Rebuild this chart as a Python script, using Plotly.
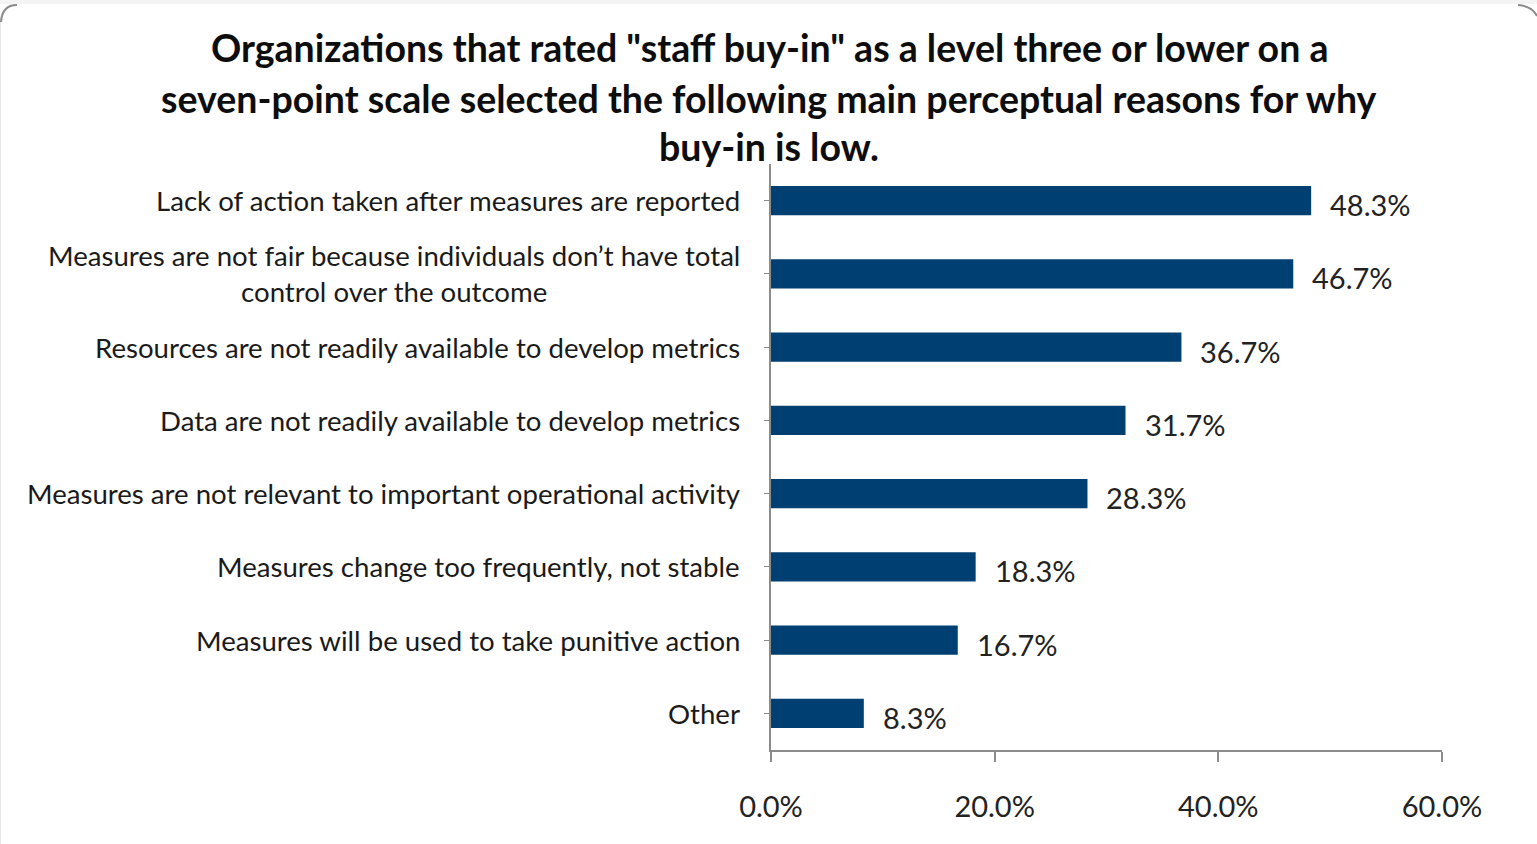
import plotly.graph_objects as go

categories = [
    "Lack of action taken after measures are reported",
    "Measures are not fair because individuals don’t have total<br>control over the outcome",
    "Resources are not readily available to develop metrics",
    "Data are not readily available to develop metrics",
    "Measures are not relevant to important operational activity",
    "Measures change too frequently, not stable",
    "Measures will be used to take punitive action",
    "Other",
]
values = [48.3, 46.7, 36.7, 31.7, 28.3, 18.3, 16.7, 8.3]
value_labels = ["48.3%", "46.7%", "36.7%", "31.7%", "28.3%", "18.3%", "16.7%", "8.3%"]
x_ticks = [0, 20, 40, 60]
x_tick_labels = ["0.0%", "20.0%", "40.0%", "60.0%"]
title_lines = [
    'Organizations that rated "staff buy-in" as a level three or lower on a',
    "seven-point scale selected the following main perceptual reasons for why",
    "buy-in is low.",
]
note = "N = 60"

W, H = 1537, 844
ML, MR, MT, MB = 771, 95, 164, 94
PW, PH = W - ML - MR, H - MT - MB

def px(x):
    return (x - ML) / PW

def py(y):
    return (H - MB - y) / PH

FONT = "Lato"
BAR = "#003F72"
AXIS = "#8c8c8c"

fig = go.Figure()
fig.add_trace(go.Bar(
    x=values, y=categories, orientation="h",
    marker=dict(color=BAR, line=dict(width=0)),
    width=0.4, hoverinfo="skip",
))

ann = []
# category labels (centered multi-line, right anchored)
for c in categories:
    ann.append(dict(x=0, xref="paper", y=c, yref="y", text=c, showarrow=False,
                    xanchor="right", yanchor="middle", align="center", xshift=-29,
                    font=dict(family=FONT, size=27.6, color="#1a1a1a")))
# value labels
for v, c, t in zip(values, categories, value_labels):
    ann.append(dict(x=v, xref="x", y=c, yref="y", text=t, showarrow=False,
                    xanchor="left", yanchor="middle", xshift=17, yshift=-4,
                    font=dict(family=FONT, size=29, color="#222222")))
# title lines
for i, (line, yy) in enumerate(zip(title_lines, [48, 98, 146])):
    ann.append(dict(x=px(769), xref="paper", y=py(yy), yref="paper", text="<b>" + line + "</b>",
                    showarrow=False, xanchor="center", yanchor="middle",
                    font=dict(family=FONT, size=37.5, color="#0d0d0d")))
ann.append(dict(x=px(1395), xref="paper", y=py(858), yref="paper", text=note, showarrow=False,
                xanchor="center", yanchor="middle",
                font=dict(family=FONT, size=29, color="#222222")))

shapes = [
    dict(type="rect", xref="paper", yref="paper", x0=px(0), x1=px(W), y0=py(0), y1=py(4),
         fillcolor="#f4f4f4", line=dict(width=0), layer="below"),
    dict(type="path", xref="paper", yref="paper",
         path=f"M {px(1)},{py(22)} Q {px(2)},{py(5)} {px(17)},{py(5)}",
         line=dict(color="#8a8a8a", width=2)),
    dict(type="path", xref="paper", yref="paper",
         path=f"M {px(1518)},{py(5)} Q {px(1532)},{py(6)} {px(1537)},{py(16)}",
         line=dict(color="#8a8a8a", width=2)),
    dict(type="line", xref="paper", yref="paper", x0=px(0.5), x1=px(0.5), y0=py(22), y1=py(844),
         line=dict(color="#e6e6e6", width=1)),
]

fig.update_layout(
    width=W, height=H,
    margin=dict(l=ML, r=MR, t=MT, b=MB, pad=0),
    paper_bgcolor="white", plot_bgcolor="white",
    showlegend=False,
    font=dict(family=FONT, color="#222222"),
    annotations=ann, shapes=shapes,
    bargap=0.6,
)
fig.update_xaxes(
    range=[0, 60], tickvals=x_ticks, ticktext=x_tick_labels,
    showgrid=False, zeroline=False, showline=True, linecolor=AXIS, linewidth=2,
    ticks="outside", ticklen=10, tickcolor=AXIS, tickwidth=2,
    ticklabelstandoff=20,
    tickfont=dict(family=FONT, size=29, color="#222222"),
)
fig.update_yaxes(
    autorange="reversed", showticklabels=False,
    showgrid=False, zeroline=False, showline=True, linecolor=AXIS, linewidth=2,
    ticks="outside", ticklen=5, tickcolor=AXIS, tickwidth=1,
)

fig.write_html("out.html", config={"displayModeBar": False})
